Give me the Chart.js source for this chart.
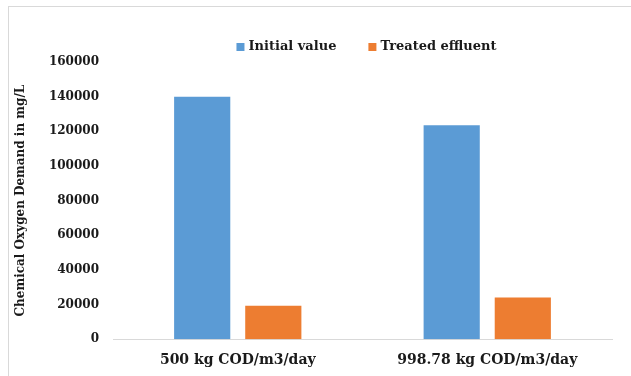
<!DOCTYPE html>
<html>
<head>
<meta charset="utf-8">
<script src="https://cdn.jsdelivr.net/npm/chart.js@4"></script>
<style>
  html, body { margin: 0; padding: 0; background: #fff; }
  #wrap { width: 631px; height: 376px; position: relative; }
</style>
</head>
<body>
<div id="wrap"><canvas id="chart" width="631" height="376"></canvas></div>
<script>
// COD values per loading rate
const loadingRates = ['500 kg COD/m3/day', '998.78 kg COD/m3/day'];
const initialValue = [140000, 123500];
const treatedEffluent = [19300, 24000];
const yTicks = [0, 20000, 40000, 60000, 80000, 100000, 120000, 140000, 160000];

const serif = "'DejaVu Serif', 'Liberation Serif', serif";
const textColor = '#1a1a1a';

// light frame around the figure
const frame = {
    id: 'frame',
    beforeDraw(chart) {
        const ctx = chart.ctx;
        ctx.save();
        ctx.strokeStyle = '#d9d9d9';
        ctx.lineWidth = 1;
        ctx.strokeRect(8.5, 6.5, 700, 500);
        ctx.restore();
    }
};

// legend row centred over the plot area, kept out of the layout
const topLegend = {
    id: 'topLegend',
    afterDraw(chart) {
        const ctx = chart.ctx;
        const area = chart.chartArea;
        const box = 8, gap = 4, itemGap = 32, y = 47;
        ctx.save();
        ctx.font = `bold 13px ${serif}`;
        ctx.textBaseline = 'middle';
        const items = chart.data.datasets.map(ds => ({
            text: ds.label,
            color: ds.backgroundColor,
            w: ctx.measureText(ds.label).width
        }));
        const total = items.reduce((s, it) => s + box + gap + it.w, 0) + itemGap * (items.length - 1);
        let x = (area.left + area.right) / 2 + 4 - total / 2;
        items.forEach(it => {
            ctx.fillStyle = it.color;
            ctx.fillRect(x, y - box / 2, box, box);
            x += box + gap;
            ctx.fillStyle = textColor;
            ctx.fillText(it.text, x, y);
            x += it.w + itemGap;
        });
        ctx.restore();
    }
};

new Chart(document.getElementById('chart'), {
    type: 'bar',
    data: {
        labels: loadingRates,
        datasets: [
            { label: 'Initial value', data: initialValue, backgroundColor: '#5b9bd5' },
            { label: 'Treated effluent', data: treatedEffluent, backgroundColor: '#ed7d31' }
        ]
    },
    options: {
        responsive: false,
        animation: false,
        categoryPercentage: 0.57,
        barPercentage: 0.79,
        layout: { padding: { left: 12, right: 19, top: 62, bottom: 2 } },
        plugins: {
            legend: { display: false },
            tooltip: { enabled: false }
        },
        scales: {
            x: {
                grid: { display: false },
                border: { color: '#d9d9d9', width: 1 },
                ticks: {
                    color: textColor,
                    padding: 5,
                    font: { family: serif, size: 14, weight: 'bold' }
                }
            },
            y: {
                min: 0,
                max: 160000,
                afterBuildTicks(scale) {
                    scale.ticks = yTicks.map(v => ({ value: v }));
                },
                afterFit(scale) { scale.width = 101; },
                grid: { display: false },
                border: { display: false },
                title: {
                    display: true,
                    text: 'Chemical Oxygen Demand in mg/L',
                    color: textColor,
                    padding: 2,
                    font: { family: serif, size: 12, weight: 'bold' }
                },
                ticks: {
                    color: textColor,
                    padding: 6,
                    font: { family: serif, size: 12, weight: 'bold' },
                    callback: v => String(v)
                }
            }
        }
    },
    plugins: [frame, topLegend]
});
</script>
</body>
</html>
